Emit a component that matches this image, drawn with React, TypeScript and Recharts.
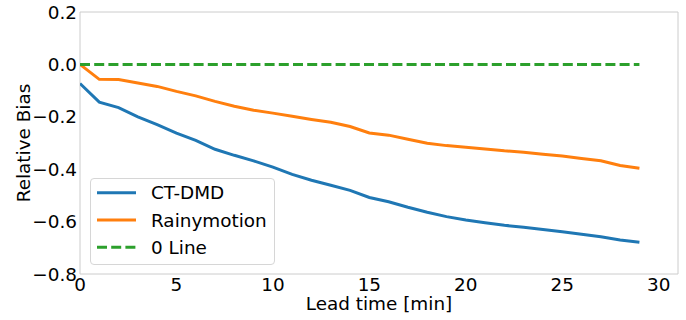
import React from "react";
import { LineChart, Line, XAxis, YAxis, ReferenceArea, Legend } from "recharts";

// lead time in minutes
const leadTime = [0, 1, 2, 3, 4, 5, 6, 7, 8, 9, 10, 11, 12, 13, 14, 15, 16, 17, 18, 19, 20, 21, 22, 23, 24, 25, 26, 27, 28, 29];

const ctDmd = [
  -0.073, -0.144, -0.165, -0.2, -0.23, -0.262, -0.29, -0.324, -0.347, -0.368,
  -0.392, -0.42, -0.442, -0.461, -0.481, -0.508, -0.524, -0.545, -0.564, -0.581,
  -0.594, -0.604, -0.614, -0.622, -0.63, -0.639, -0.648, -0.658, -0.67, -0.679,
];

const rainymotion = [
  0, -0.057, -0.058, -0.071, -0.084, -0.103, -0.12, -0.141, -0.16, -0.175,
  -0.186, -0.198, -0.21, -0.221, -0.237, -0.262, -0.27, -0.286, -0.301, -0.31,
  -0.316, -0.323, -0.33, -0.335, -0.343, -0.35, -0.359, -0.368, -0.386, -0.396,
];

const zeroLine = [0, 0, 0, 0, 0, 0, 0, 0, 0, 0, 0, 0, 0, 0, 0, 0, 0, 0, 0, 0, 0, 0, 0, 0, 0, 0, 0, 0, 0, 0];

const xTicks = [0, 5, 10, 15, 20, 25, 30];
const yTicks = [-0.8, -0.6, -0.4, -0.2, 0, 0.2];

const series = [
  { key: "ctDmd", name: "CT-DMD", color: "#1f77b4", dash: undefined },
  { key: "rainymotion", name: "Rainymotion", color: "#ff7f0e", dash: undefined },
  { key: "zero", name: "0 Line", color: "#2ca02c", dash: "10 4.2" },
];

const data = leadTime.map((t, i) => ({
  lead: t,
  ctDmd: ctDmd[i],
  rainymotion: rainymotion[i],
  zero: zeroLine[i],
}));

const FONT = "'DejaVu Sans', sans-serif";
const tickStyle = { fontFamily: FONT, fontSize: 18.4, fill: "#000" };

// matplotlib uses a real minus sign
const fmtY = (v: number) => {
  const s = v.toFixed(1);
  return s.startsWith("-") ? "\u2212" + s.slice(1) : s;
};

const LegendBox = () => (
  <div
    style={{
      width: 185,
      height: 87,
      boxSizing: "border-box",
      border: "1px solid #d6d6d6",
      borderRadius: 4,
      background: "rgba(255,255,255,0.8)",
    }}
  >
    <svg width={183} height={85} style={{ display: "block" }}>
      {series.map((s, i) => {
        const cy = 13.7 + i * 27.3;
        return (
          <g key={s.key}>
            <line x1={6} x2={45} y1={cy} y2={cy} stroke={s.color} strokeWidth={3} strokeDasharray={s.dash} />
            <text x={60} y={cy} dy="0.355em" fontFamily={FONT} fontSize={18.4} fill="#000">
              {s.name}
            </text>
          </g>
        );
      })}
    </svg>
  </div>
);

export default function App() {
  return (
    <div style={{ position: "absolute", left: 0, top: 0, width: 686, height: 320, background: "#fff" }}>
      <LineChart width={686} height={320} data={data} margin={{ top: 12, right: 8, bottom: 0, left: 0 }}>
        <XAxis
          dataKey="lead"
          type="number"
          domain={[0, 31]}
          ticks={xTicks}
          allowDataOverflow
          axisLine={false}
          tickLine={false}
          tickSize={0}
          tickMargin={4}
          height={46}
          tick={tickStyle}
          label={{ value: "Lead time [min]", position: "insideBottom", offset: 10, style: tickStyle }}
        />
        <YAxis
          type="number"
          domain={[-0.8, 0.2]}
          ticks={yTicks}
          allowDataOverflow
          axisLine={false}
          tickLine={false}
          tickSize={0}
          tickMargin={3}
          width={80}
          tick={tickStyle}
          tickFormatter={fmtY}
          label={{ value: "Relative Bias", angle: -90, position: "center", dx: -17, style: tickStyle }}
        />
        <ReferenceArea x1={0} x2={31} y1={-0.8} y2={0.2} fill="none" stroke="#cccccc" strokeWidth={1} />
        {series.map((s) => (
          <Line
            key={s.key}
            dataKey={s.key}
            name={s.name}
            stroke={s.color}
            strokeWidth={3}
            strokeDasharray={s.dash}
            dot={false}
            activeDot={false}
            isAnimationActive={false}
          />
        ))}
        <Legend
          layout="vertical"
          align="center"
          verticalAlign="middle"
          wrapperStyle={{ position: "absolute", left: 90, top: 178, width: 185, height: 87 }}
          content={() => <LegendBox />}
        />
      </LineChart>
    </div>
  );
}
